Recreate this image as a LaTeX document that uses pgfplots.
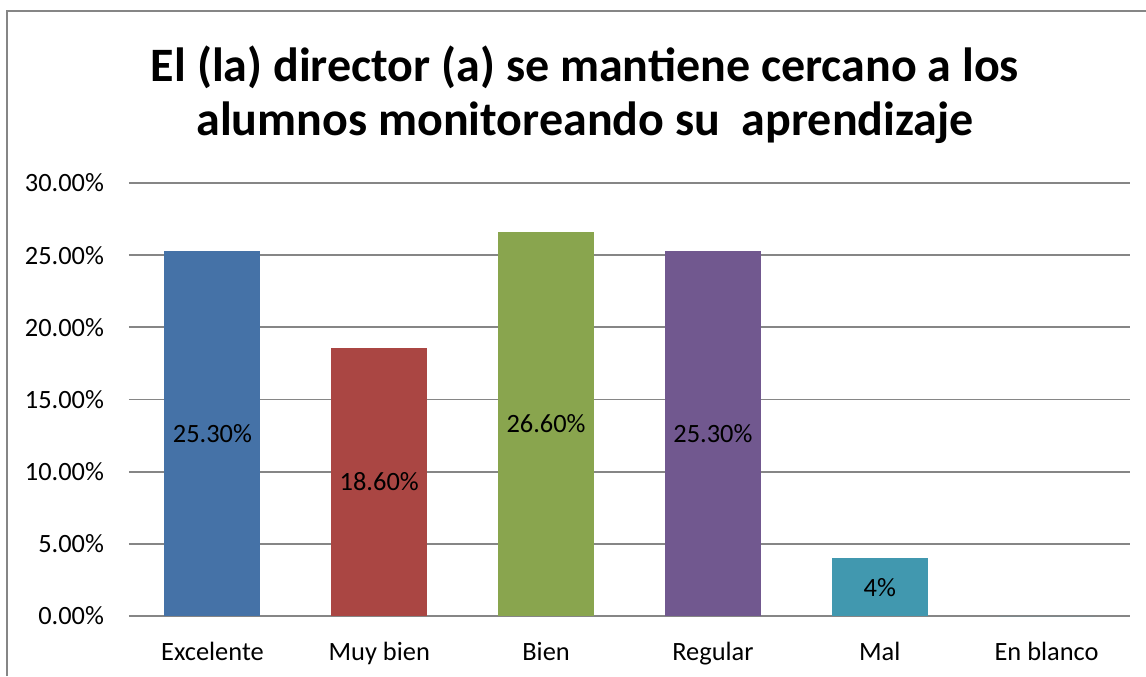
\documentclass[border=0pt]{standalone}
\usepackage{pgfplots}
\pgfplotsset{compat=1.18}
\usepackage{fontspec}
\setmainfont{Carlito}
\definecolor{cblue}{HTML}{4572A7}
\definecolor{cred}{HTML}{AA4643}
\definecolor{cgreen}{HTML}{89A54E}
\definecolor{cpurple}{HTML}{71588F}
\definecolor{cteal}{HTML}{4198AF}
\definecolor{gridgray}{HTML}{868686}
\begin{document}
\begin{tikzpicture}[x=1pt,y=1pt]
\useasboundingbox (0,0) rectangle (573,338);
\draw[gridgray,line width=1pt] (3.5,0) -- (3.5,332.5) -- (573,332.5);
\node[font=\fontsize{24}{27}\selectfont\bfseries,align=center,anchor=base] at (292.5,297) {El (la) director (a) se mantiene cercano a los};
\node[font=\fontsize{24}{27}\selectfont\bfseries,align=center,anchor=base] at (292.5,270) {alumnos monitoreando su\ \ aprendizaje};
\begin{axis}[
  at={(64.5pt,30pt)}, anchor=south west,
  scale only axis, width=500.5pt, height=216.5pt,
  xmin=-0.5, xmax=5.5, ymin=0, ymax=30,
  xtick={0,1,2,3,4,5},
  xticklabels={Excelente,Muy bien,Bien,Regular,Mal,En blanco},
  ytick={0,5,10,15,20,25,30},
  yticklabels={0.00\%,5.00\%,10.00\%,15.00\%,20.00\%,25.00\%,30.00\%},
  axis line style={draw=none},
  major tick length=0pt,
  ymajorgrids, grid style={gridgray,line width=0.9pt},
  tick label style={font=\fontsize{13.2}{15}\selectfont},
  yticklabel style={xshift=-9pt},
  xticklabel style={yshift=-9.5pt},
  ybar, bar width=48pt, bar shift=0pt,
  clip=false,
]
\addplot[fill=cblue,draw=none] coordinates {(0,25.3)};
\addplot[fill=cred,draw=none] coordinates {(1,18.6)};
\addplot[fill=cgreen,draw=none] coordinates {(2,26.6)};
\addplot[fill=cpurple,draw=none] coordinates {(3,25.3)};
\addplot[fill=cteal,draw=none] coordinates {(4,4)};
\addplot[fill=cteal,draw=none] coordinates {(5,0)};
\addplot[draw=none, mark=none, sharp plot, nodes near coords, point meta=explicit symbolic,
  every node near coord/.style={anchor=center,font=\fontsize{13.2}{15}\selectfont,text=black}]
  coordinates {(0,12.65) [25.30\%] (1,9.3) [18.60\%] (2,13.3) [26.60\%] (3,12.65) [25.30\%] (4,2) [4\%]};
\end{axis}
\end{tikzpicture}
\end{document}
